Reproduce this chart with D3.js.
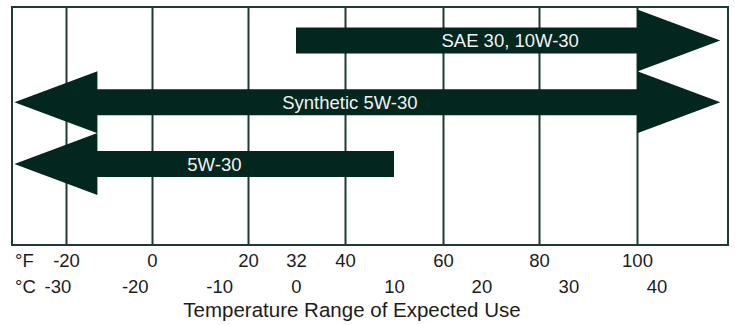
<!DOCTYPE html>
<html>
<head>
<meta charset="utf-8">
<script src="https://cdn.jsdelivr.net/npm/d3@7"></script>
<style>
  html, body { margin: 0; padding: 0; background: #ffffff; }
  svg { display: block; }
  text { font-family: "Liberation Sans", Arial, Helvetica, sans-serif; }
</style>
</head>
<body>
<svg id="chart" width="735" height="325"></svg>
<script>
// Oil grades and the outdoor temperature range (°F) each one covers.
// null means the range is open-ended on that side.
const oils  = ["SAE 30, 10W-30", "Synthetic 5W-30", "5W-30"];
const lowF  = [32, null, null];
const highF = [null, null, 50];

// Temperature tick labels
const fTicks = [-20, 0, 20, 32, 40, 60, 80, 100];
const cTicks = [-30, -20, -10, 0, 10, 20, 30, 40];
const gridF  = [-20, 0, 20, 40, 60, 80, 100];

// ---- layout ----
const W = 735, H = 325;
const frame = { left: 12, right: 728, top: 7, bottom: 245 };
const ink = "#03261e";        // arrow fill
const lineCol = "#1f3a33";    // grid + frame
const textCol = "#1c1c1c";
const coldEdgeF = -32, hotEdgeF = 117;   // where open-ended arrows point to
const shaftHalf = 13, headHalf = 31, headLen = 83;
const labelAtF = [74, 41, 13];           // horizontal centre of each arrow label
const plainNum = d => String(d);         // keep ASCII hyphen for negatives

const svg = d3.select("#chart");

// Piecewise temperature scale (the printed scale is not perfectly uniform)
const x = d3.scaleLinear()
  .domain(fTicks)
  .range([66, 152, 248, 296, 345, 443, 539, 637]);

const y = d3.scalePoint().domain(oils).range([40.5, 164]);

// Celsius positions follow the Fahrenheit scale via conversion
const toF = c => c * 9 / 5 + 32;
const xc = d3.scaleLinear().domain(cTicks).range(cTicks.map(c => x(toF(c))));

// Grid lines
svg.append("g")
  .attr("transform", `translate(0,${frame.bottom})`)
  .call(d3.axisBottom(x).tickValues(gridF).tickSize(-(frame.bottom - frame.top)).tickFormat(""))
  .call(g => g.select(".domain").remove())
  .call(g => g.selectAll("line").attr("stroke", lineCol).attr("stroke-width", 2));

// Frame
svg.append("rect")
  .attr("x", frame.left).attr("y", frame.top)
  .attr("width", frame.right - frame.left).attr("height", frame.bottom - frame.top)
  .attr("fill", "none").attr("stroke", lineCol).attr("stroke-width", 2);

// Arrows
const rows = oils.map((name, i) => ({ name, lo: lowF[i], hi: highF[i], labelF: labelAtF[i] }));

function arrowPath(d) {
  const cy = y(d.name);
  const left = d.lo == null ? x(coldEdgeF) : x(d.lo);
  const right = d.hi == null ? x(hotEdgeF) : x(d.hi);
  const p = d3.path();
  const sl = d.lo == null ? left + headLen : left;   // shaft left
  const sr = d.hi == null ? right - headLen : right; // shaft right
  p.moveTo(sl, cy - shaftHalf);
  p.lineTo(sr, cy - shaftHalf);
  if (d.hi == null) {
    p.lineTo(sr, cy - headHalf);
    p.lineTo(right, cy);
    p.lineTo(sr, cy + headHalf);
  }
  p.lineTo(sr, cy + shaftHalf);
  p.lineTo(sl, cy + shaftHalf);
  if (d.lo == null) {
    p.lineTo(sl, cy + headHalf);
    p.lineTo(left, cy);
    p.lineTo(sl, cy - headHalf);
  }
  p.closePath();
  return p.toString();
}

const arrows = svg.append("g").selectAll("g").data(rows).join("g");
arrows.append("path").attr("d", arrowPath).attr("fill", ink);
arrows.append("text")
  .attr("x", d => x(d.labelF))
  .attr("y", d => y(d.name))
  .attr("dy", "0.36em")
  .attr("text-anchor", "middle")
  .attr("font-size", 18.5)
  .attr("fill", "#f2f2f2")
  .text(d => d.name);

// Fahrenheit labels
svg.append("g")
  .attr("transform", `translate(0,${frame.bottom})`)
  .call(d3.axisBottom(x).tickValues(fTicks).tickFormat(plainNum).tickSize(0).tickPadding(9))
  .call(g => g.select(".domain").remove())
  .call(g => g.selectAll("text").attr("font-size", 18.5).attr("font-family", null).attr("fill", textCol));

// Celsius labels
svg.append("g")
  .attr("transform", `translate(0,${frame.bottom + 26})`)
  .call(d3.axisBottom(xc).tickValues(cTicks).tickFormat(plainNum).tickSize(0).tickPadding(9))
  .call(g => g.select(".domain").remove())
  .call(g => g.selectAll("text").attr("font-size", 18.5).attr("font-family", null).attr("fill", textCol));

// Unit markers
svg.append("text").attr("x", 15).attr("y", 267).attr("font-size", 18.5).attr("fill", textCol).text("°F");
svg.append("text").attr("x", 15).attr("y", 293).attr("font-size", 18.5).attr("fill", textCol).text("°C");

// Axis title
svg.append("text")
  .attr("x", 352).attr("y", 317)
  .attr("text-anchor", "middle")
  .attr("font-size", 20.5)
  .attr("fill", textCol)
  .text("Temperature Range of Expected Use");
</script>
</body>
</html>
